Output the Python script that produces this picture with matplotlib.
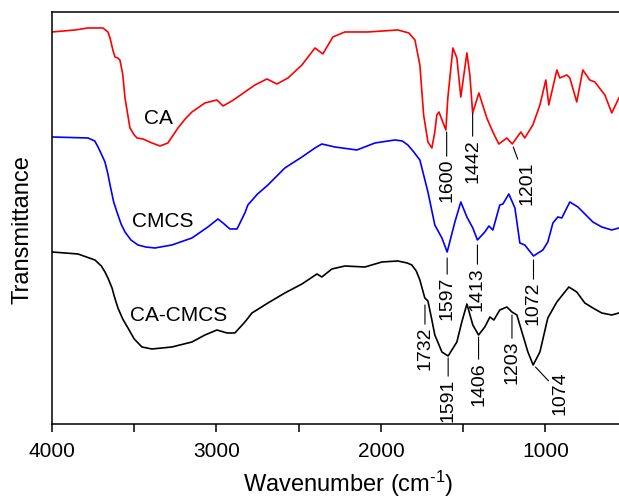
import matplotlib
matplotlib.use("Agg")
import matplotlib.pyplot as plt

plt.rcParams['font.family'] = ['Liberation Sans', 'DejaVu Sans']
plt.rcParams['mathtext.fontset'] = 'custom'
plt.rcParams['mathtext.rm'] = 'Liberation Sans'
plt.rcParams['mathtext.default'] = 'regular'

# FTIR spectra (wavenumber in cm-1, transmittance in a.u., curves already offset)
ca_wn = [4000, 3860, 3781, 3690, 3660, 3647, 3630, 3617, 3600, 3587, 3570, 3556, 3526,
         3500, 3483, 3447, 3392, 3343, 3295, 3234, 3190, 3149, 3070, 2997, 2960, 2906,
         2827, 2766, 2693, 2632, 2565, 2480, 2401, 2353, 2292, 2219, 2079, 1897, 1830,
         1793, 1763, 1740, 1714, 1690, 1672, 1660, 1647, 1605, 1593, 1562, 1538, 1514,
         1477, 1459, 1442, 1404, 1356, 1319, 1283, 1234, 1201, 1149, 1125, 1076, 1033,
         997, 979, 930, 912, 869, 851, 809, 772, 730, 699, 638, 596, 553]
ca_t = [392, 394, 396, 396, 392, 386, 374, 367, 366, 364, 350, 326, 296,
        289, 286, 285, 281, 278, 281, 296, 305, 312, 321, 324, 318, 323,
        332, 339, 345, 340, 346, 359, 376, 370, 387, 392, 392, 394, 391,
        384, 359, 309, 282, 276, 292, 309, 312, 294, 326, 376, 366, 327,
        371, 349, 311, 331, 306, 292, 280, 286, 280, 292, 286, 299, 319,
        344, 319, 354, 346, 349, 346, 322, 354, 344, 342, 329, 311, 326]

cmcs_wn = [4000, 3781, 3740, 3720, 3700, 3678, 3660, 3647, 3625, 3605, 3580, 3556, 3520,
           3477, 3430, 3374, 3271, 3149, 3052, 2991, 2960, 2918, 2875, 2827, 2809, 2750,
           2687, 2584, 2480, 2401, 2359, 2280, 2146, 2036, 1915, 1870, 1836, 1800, 1763,
           1714, 1672, 1629, 1597, 1550, 1514, 1477, 1441, 1413, 1368, 1343, 1319, 1277,
           1258, 1222, 1185, 1155, 1125, 1072, 1015, 985, 954, 924, 900, 851, 802, 711,
           657, 596, 553]
cmcs_t = [287, 286, 283, 277, 270, 262, 250, 239, 222, 212, 200, 192, 184,
          179, 177, 176, 179, 186, 197, 205, 201, 195, 195, 211, 219, 230,
          239, 256, 267, 276, 280, 277, 274, 281, 284, 283, 279, 272, 264,
          232, 199, 186, 172, 202, 222, 207, 196, 184, 192, 198, 194, 219,
          220, 230, 216, 181, 179, 168, 174, 182, 201, 207, 206, 222, 217, 202,
          197, 194, 196]

mix_wn = [4000, 3842, 3739, 3700, 3678, 3660, 3635, 3620, 3599, 3570, 3538, 3500, 3453,
          3392, 3271, 3149, 3070, 2997, 2936, 2888, 2827, 2784, 2687, 2584, 2480, 2389,
          2359, 2298, 2219, 2097, 1994, 1897, 1840, 1812, 1785, 1763, 1733, 1714, 1690,
          1672, 1629, 1591, 1538, 1508, 1477, 1441, 1406, 1368, 1337, 1313, 1277, 1234,
          1203, 1173, 1137, 1106, 1074, 1033, 985, 930, 857, 809, 760, 711, 657, 596, 553]
mix_t = [172, 170, 164, 158, 152, 146, 136, 127, 116, 105, 96, 85, 77,
         75, 77, 82, 89, 94, 91, 91, 102, 111, 121, 131, 140, 150,
         147, 155, 158, 157, 162, 163, 161, 159, 153, 144, 126, 123, 104,
         89, 72, 68, 82, 102, 120, 99, 89, 97, 107, 104, 114, 117,
         112, 109, 89, 72, 59, 72, 106, 122, 137, 132, 121, 116, 111, 109, 111]

# peak labels: (text, peak wavenumber, line top, text wavenumber, text top)
ca_peaks = [("1600", 1600, 292, 1600, 265), ("1442", 1442, 311, 1442, 285),
            ("1201", 1195, 277, 1113, 262)]
cmcs_peaks = [("1597", 1597, 166, 1597, 147), ("1413", 1413, 179, 1413, 157),
              ("1072", 1072, 164, 1072, 142)]
mix_peaks = [("1732", 1732, 119, 1732, 97), ("1591", 1591, 66, 1591, 45),
             ("1406", 1406, 87, 1406, 62), ("1203", 1203, 109, 1203, 83),
             ("1074", 1060, 57, 912, 53)]

fig = plt.figure(figsize=(6.19, 5.01), dpi=100)
ax = fig.add_axes([0.084, 0.1537, 0.9564, 0.8224])

ax.plot(ca_wn, ca_t, color='#ff0000', lw=1.2)
ax.plot(cmcs_wn, cmcs_t, color='#0000ff', lw=1.2)
ax.plot(mix_wn, mix_t, color='black', lw=1.2)

ax.text(3350, 305, "CA", fontsize=15, ha='center', va='center')
ax.text(3325, 202, "CMCS", fontsize=15, ha='center', va='center')
ax.text(3228, 108, "CA-CMCS", fontsize=15, ha='center', va='center')

for lab, wn, ytop, twn, ty in ca_peaks + cmcs_peaks + mix_peaks:
    ax.annotate(lab, xy=(wn, ytop), xytext=(twn, ty), rotation=90,
                ha='center', va='top', fontsize=14,
                arrowprops=dict(arrowstyle='-', color='black', lw=0.8,
                                shrinkA=0, shrinkB=0))

ax.set_xlim(4000, 400)
ax.set_ylim(0, 412)
ax.set_xticks([4000, 3000, 2000, 1000])
ax.set_xticks([3500, 2500, 1500, 500], minor=True)
ax.set_yticks([])
ax.tick_params(axis='x', which='both', direction='out', length=6, width=1.1,
               labelsize=15, pad=7)
for s in ax.spines.values():
    s.set_linewidth(1.1)
ax.spines['right'].set_visible(False)

ax.set_xlabel(r"Wavenumber (cm$^{\text{-}1}$)", fontsize=17)
ax.set_ylabel("Transmittance", fontsize=17)
ax.xaxis.set_label_coords(0.5, -0.108)
ax.yaxis.set_label_coords(-0.032, 0.473)

fig.savefig("out.png", dpi=100)
